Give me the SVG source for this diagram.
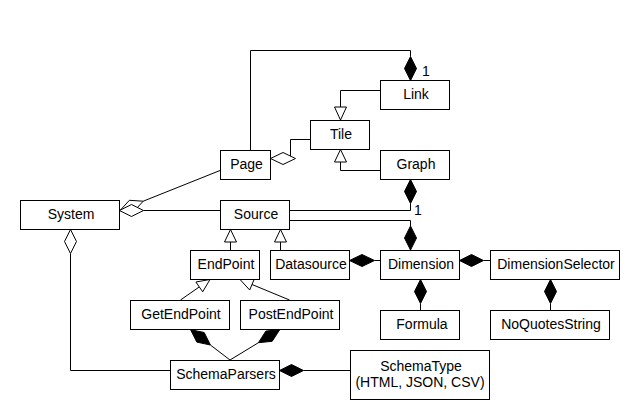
<svg xmlns="http://www.w3.org/2000/svg" width="640" height="420" viewBox="0 0 640 420">
<style>
.box{fill:#fff;stroke:#000;stroke-width:1}
.lbl{font-family:"Liberation Sans",Arial,sans-serif;font-size:14px;fill:#000;text-anchor:middle}
.ln{fill:none;stroke:#000;stroke-width:1}
.fd{fill:#000;stroke:#000;stroke-width:1}
.od{fill:#fff;stroke:#000;stroke-width:1}
.mult{font-family:"Liberation Sans",Arial,sans-serif;font-size:14px;fill:#000}
</style>
<rect x="0" y="0" width="640" height="420" fill="#fff"/>
<g id="connectors">
  <!-- Page - Link composition -->
  <path class="ln" d="M250.5,150 V50.5 H410.5 V56.5"/>
  <polygon class="fd" points="410.5,56.5 416.5,68.5 410.5,80.5 404.5,68.5"/>
  <text class="mult" x="422" y="76">1</text>
  <!-- Link -> Tile generalization -->
  <path class="ln" d="M380,90.5 H340.5 V107"/>
  <polygon class="od" points="334.5,107 346.5,107 340.5,120"/>
  <!-- Graph -> Tile generalization -->
  <path class="ln" d="M380,170.5 H340.5 V162"/>
  <polygon class="od" points="334.5,162 346.5,162 340.5,149.5"/>
  <!-- Tile - Page aggregation -->
  <path class="ln" d="M310,139.5 H290.5 V158.5"/>
  <polygon class="od" points="270.5,158.5 283,152.5 295.5,158.5 283,164.5"/>
  <!-- Page - System aggregation -->
  <path class="ln" d="M220,170.5 L143.2,201.2"/>
  <polygon class="od" points="120,210.5 129.4,200.3 143.2,201.2 133.8,211.5"/>
  <!-- Source - System aggregation -->
  <path class="ln" d="M220,210.5 H143.5"/>
  <polygon class="od" points="119.5,210.5 131.5,204.5 143.5,210.5 131.5,216.5"/>
  <!-- Graph - Source composition -->
  <polygon class="fd" points="410.5,179.5 416.5,191.5 410.5,203.5 404.5,191.5"/>
  <path class="ln" d="M410.5,203.5 V210.5 H289"/>
  <text class="mult" x="414" y="215">1</text>
  <!-- Source - Dimension composition -->
  <path class="ln" d="M289,220.5 H410.5 V226"/>
  <polygon class="fd" points="410.5,226 416.5,238 410.5,250 404.5,238"/>
  <!-- EndPoint -> Source -->
  <path class="ln" d="M230.5,250 V242"/>
  <polygon class="od" points="224.5,242 236.5,242 230.5,229.5"/>
  <!-- Datasource -> Source -->
  <path class="ln" d="M280.5,250 V242"/>
  <polygon class="od" points="274.5,242 286.5,242 280.5,229.5"/>
  <!-- GetEndPoint -> EndPoint -->
  <path class="ln" d="M180.5,300 L199.3,286.9"/>
  <polygon class="od" points="210,279.5 202.7,291.8 195.9,282"/>
  <!-- PostEndPoint -> EndPoint -->
  <path class="ln" d="M289.5,300 L252,284.5"/>
  <polygon class="od" points="240,279.5 254.3,279 249.7,290"/>
  <!-- SchemaParsers - GetEndPoint composition -->
  <path class="ln" d="M230,360 L210.4,345"/>
  <polygon class="fd" points="190.6,329.7 204.2,332.5 210.4,345 196.8,342.1"/>
  <!-- SchemaParsers - PostEndPoint composition -->
  <path class="ln" d="M230,360 L258.4,342.7"/>
  <polygon class="fd" points="279.7,329.7 272.2,341.3 258.4,342.7 265.9,331.1"/>
  <!-- System - SchemaParsers aggregation -->
  <polygon class="od" points="70.5,229.5 76.5,241.5 70.5,253.5 64.5,241.5"/>
  <path class="ln" d="M70.5,253.5 V370.5 H170"/>
  <!-- SchemaType - SchemaParsers composition -->
  <polygon class="fd" points="279.5,370.5 291.5,364.5 303.5,370.5 291.5,376.5"/>
  <path class="ln" d="M303.5,370.5 H350"/>
  <!-- Dimension - Datasource composition -->
  <polygon class="fd" points="349.5,260.5 362,254.5 374.5,260.5 362,266.5"/>
  <path class="ln" d="M374.5,260.5 H380"/>
  <!-- DimensionSelector - Dimension composition -->
  <polygon class="fd" points="459.5,260.5 471.5,254.5 483.5,260.5 471.5,266.5"/>
  <path class="ln" d="M483.5,260.5 H490"/>
  <!-- Formula - Dimension composition -->
  <polygon class="fd" points="420.5,279.5 426.5,291.5 420.5,303.5 414.5,291.5"/>
  <path class="ln" d="M420.5,303.5 V310"/>
  <!-- NoQuotesString - DimensionSelector composition -->
  <polygon class="fd" points="550.5,279.5 556.5,291.5 550.5,303.5 544.5,291.5"/>
  <path class="ln" d="M550.5,303.5 V310"/>
</g>
<g id="Link"><rect class="box" x="380.5" y="80.5" width="69" height="29"/><text class="lbl" x="416" y="99">Link</text></g>
<g id="Tile"><rect class="box" x="310.5" y="120.5" width="59" height="29"/><text class="lbl" x="341" y="139">Tile</text></g>
<g id="Page"><rect class="box" x="220.5" y="150.5" width="50" height="29"/><text class="lbl" x="246.5" y="169">Page</text></g>
<g id="Graph"><rect class="box" x="380.5" y="150.5" width="69" height="29"/><text class="lbl" x="416" y="169">Graph</text></g>
<g id="System"><rect class="box" x="20.5" y="200.5" width="99" height="29"/><text class="lbl" x="71" y="218.5">System</text></g>
<g id="Source"><rect class="box" x="220.5" y="200.5" width="69" height="29"/><text class="lbl" x="256" y="218.5">Source</text></g>
<g id="EndPoint"><rect class="box" x="190.5" y="250.5" width="69" height="29"/><text class="lbl" x="226" y="268.5">EndPoint</text></g>
<g id="Datasource"><rect class="box" x="270.5" y="250.5" width="79" height="29"/><text class="lbl" x="311" y="268.5">Datasource</text></g>
<g id="Dimension"><rect class="box" x="380.5" y="250.5" width="79" height="29"/><text class="lbl" x="421" y="268.5">Dimension</text></g>
<g id="DimensionSelector"><rect class="box" x="490.5" y="250.5" width="129" height="29"/><text class="lbl" x="556" y="268.5">DimensionSelector</text></g>
<g id="GetEndPoint"><rect class="box" x="130.5" y="300.5" width="99" height="29"/><text class="lbl" x="181" y="318.5">GetEndPoint</text></g>
<g id="PostEndPoint"><rect class="box" x="240.5" y="300.5" width="99" height="29"/><text class="lbl" x="291" y="318.5">PostEndPoint</text></g>
<g id="Formula"><rect class="box" x="380.5" y="310.5" width="79" height="29"/><text class="lbl" x="422" y="328.5">Formula</text></g>
<g id="NoQuotesString"><rect class="box" x="490.5" y="310.5" width="119" height="29"/><text class="lbl" x="551" y="328.5">NoQuotesString</text></g>
<g id="SchemaParsers"><rect class="box" x="170.5" y="360.5" width="109" height="29"/><text class="lbl" x="226" y="378.5">SchemaParsers</text></g>
<g id="SchemaType"><rect class="box" x="350.5" y="350.5" width="139" height="49"/><text class="lbl" x="421" y="370.5">SchemaType</text><text class="lbl" x="420" y="386.5">(HTML, JSON, CSV)</text></g>
</svg>
